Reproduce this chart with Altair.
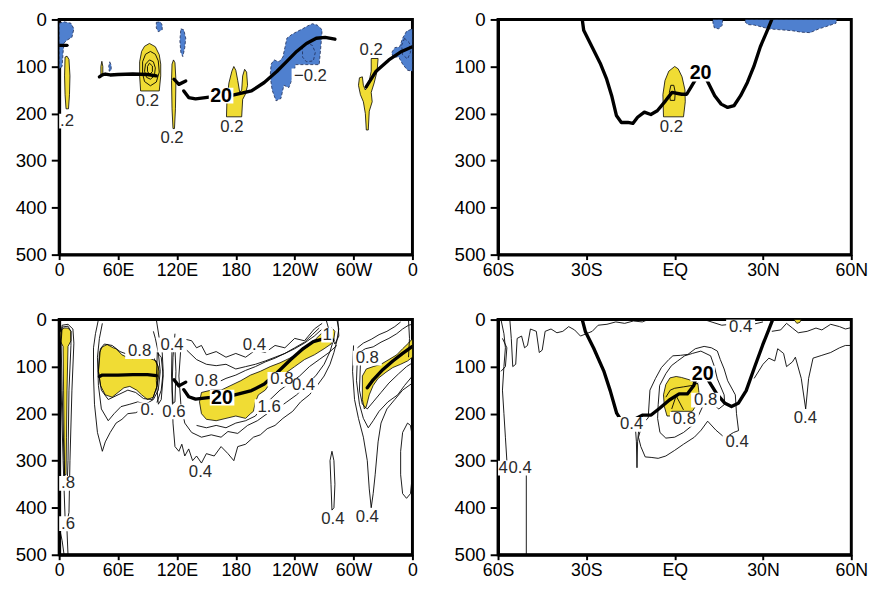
import altair as alt
import pandas as pd

YEL = "#f0dc34"
BLUE = "#4f80cf"

# ---------------- top-left (longitude section, contour 0.2) ----------------
TL_YELLOW = [
    [(6,80),(8,78),(10,85),(11,120),(10.5,160),(9.5,190),(7,190),(6,160),(5.5,120)],
    [(92,51),(87,57),(84,68),(82,90),(82,120),(83,152),(102,152),(103.5,120),(103.5,95),(102,75),(98,58)],
    [(116.5,86),(118,92),(119,130),(118.5,190),(117.5,232),(116,232),(115,190),(114.5,130),(115,95)],
    [(43.5,89),(44.5,100),(44.5,117),(42.5,117),(42.5,100)],
    [(170.5,207),(171,170),(173,135),(176,110),(178,100),(180,108),(182,130),(184,155),(186,150),(187,120),
     (189,106),(191,112),(192,140),(190,158),(187,170),(186,207)],
    [(306,124),(309,122),(310,140),(312,150),(315,140),(318,110),(318,83),(325,83),(324,110),(321,135),(318,155),
     (319,175),(316,195),(315,235),(313,235),(312,200),(310,175),(307,160),(305,140)],
]
TL_BLUE = [
    [(0,8),(5,5),(12,8),(15,20),(13,38),(8,44),(5,50),(4,70),(3,100),(0,105)],
    [(99,6),(103,5),(105,12),(105,22),(101,26),(99,18)],
    [(124,20),(127,22),(129,40),(128,60),(126,79),(124,70),(123,45)],
    [(51.5,90),(53,97),(53,108),(51,110),(50.5,100)],
    [(216,95),(219,86),(224,90),(228,80),(230,60),(232,40),(237,32),(243,25),(248,20),(253,14),(258,9),(263,12),
     (268,22),(267,50),(265,96),(241,96),(237,130),(234,145),(229,140),(226,168),(221,173),(217,150),(215,120)],
    [(339,70),(342,60),(347,58),(350,40),(354,25),(360,20),(360,110),(355,108),(350,95),(346,80),(340,80)],
]
TL_BLUE_RINGS = [
    [(252,50),(248,60),(248,80),(252,90),(259,88),(261,70),(258,55)],
    [(352,40),(349,55),(350,75),(355,84),(358,70),(357,50)],
]
TL_CLOSED = [
    [(93,68),(88,74),(85,90),(85,115),(87,132),(93,141),(99,133),(102,112),(101,88),(98,74)],
    [(92,86),(88,95),(87,110),(89,123),(93,127),(97,120),(98,103),(96,90)],
    [(92,93),(90,100),(90,110),(92,117),(95,111),(95,99)],
]
TL_OPEN = []
TL_THICK = [
    [(0,55),(8,55)],
    [(41,122),(44,118),(47,116),(52,118),(60,117),(75,116),(90,117),(99,120)],
    [(117,127),(122,138),(129,131)],
    [(127,152),(132,166),(139,169),(149,166),(160,163),(177,161),(196,152),(209,134),(222,110),(232,89),
     (242,68),(252,51),(262,40),(271,38),(281,42)],
    [(313,143),(323,110),(336,86),(349,68),(360,58)],
]
TL_LABELS = [(8,216,".2"),(90,173,"0.2"),(115,253,"0.2"),(176,228,"0.2"),(256,120,"\u22120.2"),(318,65,"0.2")]
TL_BOLD = [(165,162,"20")]

# ---------------- top-right (latitude section, contour 0.2) ----------------
TR_YELLOW = [
    [(0,100),(-2,110),(-3.3,130),(-4,160),(-3.8,207),(3,207),(3.6,175),(3.5,150),(2.5,122),(1.2,105)],
]
TR_BLUE = [
    [(13,0),(16.3,0),(16.2,12),(15,20),(13.5,18),(13,8)],
    [(24,0),(55,0),(54.8,8),(52,14),(49,20),(46,28),(43,27),(40,24),(36,22),(32,20),(29,15),(27,12),(25,11),(24,6)],
]
TR_BLUE_RINGS = []
TR_CLOSED = [
    [(-1.3,140),(-1.8,155),(-1.5,172),(0,172),(0.2,155),(-0.3,140)],
]
TR_OPEN = []
TR_THICK = [
    [(-31.4,0),(-30.9,23),(-28.1,58),(-25.3,93),(-23.1,127),(-21.4,162),(-19.8,204),(-18.1,219),(-15.9,219),
     (-14.2,221),(-12.6,208),(-10.3,197),(-8.1,202),(-5.9,194),(-3.1,173),(-0.9,155),(2.4,159),(4.1,159),
     (5.8,141),(7.4,124)],
    [(10.3,118),(10.8,127),(13.6,162),(15.8,180),(18,187),(20.2,183),(22.4,162),(24.7,134),(26.9,100),
     (29.1,58),(31.3,26),(33,0)],
]
TR_LABELS = [(-1.1,228,"0.2")]
TR_BOLD = [(8.8,115,"20")]

# ---------------- bottom-left (longitude section, contour 0.2 steps) ----------------
BL_YELLOW = [
    [(2,22),(5,18),(9,18),(12,25),(12,45),(9,57),(8,150),(7.5,250),(7,330),(5.5,330),(5,250),(4.5,150),(4,57),(1,45),(1,28)],
    [(41,70),(44,58),(49,53),(55,60),(58,62),(64,75),(69,80),(75,83),(79,80),(85,78),(92,82),(99,88),(102,110),
     (100,140),(96,165),(90,170),(84,160),(79,150),(72,142),(66,145),(60,155),(54,165),(47,160),(42,140),(40,110)],
    [(145,155),(155,150),(165,150),(175,140),(185,130),(195,118),(205,110),(215,100),(225,92),(235,82),(245,70),
     (255,55),(262,40),(267,30),(272,22),(278,18),(281,25),(280,40),(277,52),(270,62),(260,75),(250,85),(240,100),
     (232,112),(222,120),(215,135),(210,150),(203,160),(200,175),(198,195),(195,200),(190,210),(180,205),(170,210),
     (160,215),(150,212),(145,200),(143,175)],
    [(309,170),(309,120),(313,105),(320,100),(328,95),(336,85),(344,75),(350,62),(356,50),(359,43),(360,43),
     (360,80),(355,88),(348,95),(340,102),(333,112),(325,125),(320,140),(316,160),(313,185),(311,190)],
]
BL_BLUE = []
BL_BLUE_RINGS = []
BL_CLOSED = [
    [(3,12),(9,10),(14,20),(15,50),(13,150),(11,300),(10,410),(8,430),(6,420),(4,300),(2,150),(1,50)],
    [(3,16),(9,14),(12,25),(12,55),(10,150),(9,300),(8,360),(6,360),(5,300),(3,150),(2,50)],
    [(42,62),(46,52),(54,55),(62,68),(75,78),(86,75),(96,80),(101,100),(100,140),(95,170),(86,168),(78,155),
     (70,150),(60,160),(50,170),(43,150),(40,110)],
    [(100,70),(104,80),(106,120),(104,170),(101,180),(99,130)],
    [(115,60),(118,62),(119,110),(118,175),(116,178),(114.5,120)],
    [(278,280),(280,300),(281,350),(280,400),(278,405),(277,350),(276,300)],
    [(355,220),(350,240),(348,280),(348,330),(350,370),(354,380),(358,370),(360,330),(360,250),(358,225)],
]
BL_OPEN = [
    [(0,440),(3,470),(5,500)],
    [(8,450),(9,500)],
    [(40,0),(37,30),(35,60),(35,120),(36,180),(39,240),(44,280),(47,260),(52,240),(58,220),(64,212),(70,200),
     (78,198),(86,190),(92,188),(99,180),(104,150),(106,110),(105,70),(102,40),(99,0)],
    [(44,8),(41,40),(39,80),(40,140),(43,190),(50,215),(56,200),(63,185),(72,180),(80,175),(88,180),(96,170),
     (101,150),(103,110),(101,70),(98,40),(96,25)],
    [(118,30),(116,80),(115,150),(116,220),(118,270),(122,280),(125,265),(128,290),(132,275),(136,300),(140,290),
     (145,305),(150,285),(158,290),(165,270),(172,285),(178,300),(182,270),(190,265),(198,250),(205,245),(212,232),
     (220,225),(228,210),(238,195),(246,175),(255,160),(263,140),(270,120),(276,95),(280,70),(283,45),(285,20),(283,0)],
    [(124,60),(122,120),(124,180),(128,220),(135,240),(145,250),(155,245),(165,250),(172,238),(182,242),(192,225),
     (202,215),(212,200),(222,190),(232,175),(242,160),(252,140),(262,118),(270,95),(276,68),(280,40)],
    [(125,40),(135,45),(140,60),(145,55),(150,75),(160,68),(170,80),(180,72),(190,80),(200,65),(210,70),(220,55),
     (230,60),(240,40),(250,45),(260,20),(268,8)],
    [(130,65),(140,85),(150,95),(160,98),(170,95),(180,105),(190,100),(200,95),(210,88),(220,80),(230,72),
     (240,62),(250,50),(260,35),(268,20)],
    [(140,140),(150,132),(160,135),(170,125),(180,118),(190,108),(200,100),(210,90),(220,82),(230,72),(240,60),
     (250,48),(258,32),(265,18)],
    [(140,225),(150,230),(160,225),(170,230),(180,220),(190,215),(200,205),(205,190),(215,170),(225,150),(235,135),
     (245,120),(255,100),(265,85),(275,70),(283,55)],
    [(300,55),(299,110),(301,170),(305,210),(310,250),(314,300),(316,360),(318,400),(320,370),(322,330),(325,260),
     (328,220),(334,190),(342,170),(350,150),(360,135)],
    [(304,75),(303,130),(306,180),(310,210),(315,230),(320,215),(326,195),(335,175),(345,160),(352,140),(360,120)],
    [(307,95),(306,150),(309,180),(314,190),(320,175),(328,155),(336,135),(346,115),(354,100),(360,92)],
    [(306,70),(312,62),(320,58),(328,48),(336,40),(344,30),(350,20),(356,12),(360,10)],
    [(304,60),(310,50),(318,42),(326,32),(334,25),(342,15),(348,5)],
    [(272,0),(276,30),(281,52),(285,35),(284,0)],
    [(356,0),(357,40),(356,80)],
]
BL_THICK = [
    [(41,121),(44,118),(50,118),(60,118),(75,117),(90,117),(99,119)],
    [(117,128),(122,141),(129,133)],
    [(127,149),(132,164),(139,169),(152,166),(165,164),(177,161),(196,151),(209,137),(222,113),(236,85),
     (249,61),(259,47),(271,40),(279,44)],
    [(314,145),(320,128),(330,106),(340,88),(350,72),(360,57)],
]
BL_LABELS = [(82,68,"0.8"),(115,54,"0.4"),(199,54,"0.4"),(150,130,"0.8"),(117,196,"0.6"),(90,192,"0."),
             (144,324,"0.4"),(227,127,"0.8"),(249,140,"0.4"),(214,185,"1.6"),(273,33,"1"),(314,82,"0.8"),
             (279,424,"0.4"),(314,420,"0.4"),(9,348,".8"),(9,434,".6")]
BL_BOLD = [(166,166,"20")]

# ---------------- bottom-right (latitude section) ----------------
BR_YELLOW = [
    [(-3.8,160),(-3,138),(-1.6,124),(0.5,121),(2.3,123),(5,128),(7.9,137),(8.5,168),(7,185),(6,195),(-1,195),
     (-1,205),(-2.6,205),(-3.5,185)],
    [(40.5,0),(43,0),(42.5,6),(41.5,8)],
]
BR_BLUE = []
BR_BLUE_RINGS = []
BR_CLOSED = [
    [(-5.6,181),(-5.1,140),(-3,115),(-1.1,98),(1,88),(3.4,77),(6,72),(8.9,67),(12.2,77),(13.5,100),(14.5,126),
     (16.8,160),(17,180),(15,190),(13,180),(11,170),(9.5,185),(8,205),(6,225),(3,240),(0,250),(-3,252),(-5,240),
     (-5.8,210)],
    [(-11,222),(-9,209),(-8.4,150),(-6.5,125),(-4.5,102),(-2,85),(-0.6,77),(2,76),(4.5,74),(7,62),(10,57),
     (12.5,60),(14.5,67),(15.5,85),(16.8,105),(18,130),(20.6,160),(21,200),(21.7,236),(20,240),(18,248),(16.8,250),
     (14,235),(11.2,216),(9,235),(6.7,250),(3,265),(0,278),(-3,290),(-5.6,295),(-8,293),(-10,292),(-11.5,270),
     (-12.3,250)],
]
BR_OPEN = [
    [(-59,0),(-58,30),(-57.5,60),(-58,100),(-58.5,150),(-58,200),(-57.5,250),(-57,300)],
    [(-58.5,40),(-57,60),(-57.5,100),(-59,110)],
    [(-56,0),(-55.5,40),(-55,100),(-54,95),(-53.5,40),(-52,35),(-51,60),(-50,55),(-49,20),(-47,25),(-46,70),
     (-45,65),(-44,25),(-42,20),(-40,28),(-38,25),(-36,15),(-34,22),(-32,35),(-30,30),(-28,25),(-26,12),(-23,10),
     (-20,5),(-17,8),(-14,3),(-11,5),(-9,0)],
    [(-13.5,215),(-13,260),(-12.8,315),(-12.6,260),(-12,220)],
    [(-50.4,330),(-50.4,500)],
    [(10,0),(13,6),(16,12),(19,10),(22,14),(25,12),(28,8),(30,5)],
    [(33,25),(36,22),(38,8),(40,18),(42,28),(45,25),(48,18),(50,22),(53,10),(56,15),(58,20),(60,17)],
    [(27,125),(30,95),(32,82),(34,88),(35,62),(37,72),(38,100),(40,90),(41,80),(43,125),(44.5,190),(45.5,125),
     (47,82),(50,76),(53,70),(56,60),(58,55),(60,55)],
    [(-3,165),(-1.5,150),(0,146),(3,143),(6,140),(8,135)],
    [(-1,190),(0.5,162),(3,192)],
]
BR_THICK = [
    [(-31.4,0),(-30.3,26),(-27.5,61),(-24.1,109),(-21.9,151),(-19.7,199),(-18,216),(-15.2,220),(-13,210),
     (-10.8,203),(-8,203),(-5.2,189),(-1.8,171),(1.5,158),(4.3,158),(6.5,140),(7.2,125)],
    [(10.8,118),(11.5,130),(14.3,158),(17.1,178),(19.3,185),(21.6,178),(24.3,151),(27.1,102),(29.9,54),
     (32.1,19),(33.3,0)],
]
BR_LABELS = [(22.4,15,"0.4"),(44.4,209,"0.4"),(21.2,261,"0.4"),(-14.6,223,"0.4"),(3.3,212,"0.8"),
             (10.5,171,"0.8"),(-58.3,316,"4"),(-52.5,316,"0.4")]
BR_BOLD = [(9.5,115,"20")]

# ---------------- helpers ----------------
W, H = 359, 239
LON_TICKS = [0, 60, 120, 180, 240, 300, 360]
LAT_TICKS = [-60, -30, 0, 30, 60]
DEPTH_TICKS = [0, 100, 200, 300, 400, 500]
LABEL_FONT = "Liberation Sans"


def shapes_df(shapes, close):
    rows = []
    for pid, pts in enumerate(shapes):
        seq = list(pts) + ([pts[0]] if close else [])
        for k, (x, y) in enumerate(seq):
            rows.append({"x": x, "y": y, "pid": pid, "k": k})
    return pd.DataFrame(rows)


def label_df(labels, xspan, char_px, h_px):
    rows = []
    for (x, y, t) in labels:
        wpx = char_px * len(t) + 3
        dx = wpx * xspan / W / 2
        dy = h_px * 500 / H / 2
        rows.append({"x": x, "y": y, "t": t, "x1": x - dx, "x2": x + dx, "y1": y - dy, "y2": y + dy})
    return pd.DataFrame(rows)


def panel(geo, yellow, blue, rings, closed, opened, thick, labels, bold):
    if geo == "lon":
        dom, ticks = [0, 360], LON_TICKS
        expr = ("datum.value == 0 || datum.value == 360 ? '0' : datum.value < 180 ? datum.value + 'E' : "
                "datum.value == 180 ? '180' : (360 - datum.value) + 'W'")
    else:
        dom, ticks = [-60, 60], LAT_TICKS
        expr = "datum.value < 0 ? (-datum.value) + 'S' : datum.value == 0 ? 'EQ' : datum.value + 'N'"
    xspan = dom[1] - dom[0]
    xs = alt.Scale(domain=dom, nice=False, zero=False)
    ys = alt.Scale(domain=[0, 500], reverse=True, nice=False)
    xax = alt.Axis(values=ticks, labelExpr=expr, title=None, grid=False, labelFlush=False,
                   labelOverlap=False, labelFont=LABEL_FONT, labelFontSize=18, labelPadding=2,
                   tickSize=5)
    yax = alt.Axis(values=DEPTH_TICKS, title=None, grid=False, labelFlush=False, labelOverlap=False,
                   labelFont=LABEL_FONT, labelFontSize=19, labelPadding=5, tickSize=8)
    X = alt.X("x:Q", scale=xs, axis=xax)
    Y = alt.Y("y:Q", scale=ys, axis=yax)

    layers = []
    layers.append(alt.Chart(pd.DataFrame({"x": [dom[0]], "y": [0]})).mark_point(opacity=0).encode(x=X, y=Y))
    if yellow:
        layers.append(alt.Chart(shapes_df(yellow, True)).mark_line(
            fill=YEL, stroke="black", strokeWidth=0.8, clip=True).encode(
            x=X, y=Y, detail="pid:N", order="k:Q"))
    if blue:
        layers.append(alt.Chart(shapes_df(blue, True)).mark_line(
            fill=BLUE, stroke="#1d2b55", strokeWidth=0.8, strokeDash=[3, 2], clip=True).encode(
            x=X, y=Y, detail="pid:N", order="k:Q"))
    if rings:
        layers.append(alt.Chart(shapes_df(rings, True)).mark_line(
            stroke="#1d2b55", strokeWidth=0.8, strokeDash=[3, 2], clip=True).encode(
            x=X, y=Y, detail="pid:N", order="k:Q"))
    if closed:
        layers.append(alt.Chart(shapes_df(closed, True)).mark_line(
            stroke="black", strokeWidth=0.9, clip=True).encode(
            x=X, y=Y, detail="pid:N", order="k:Q"))
    if opened:
        layers.append(alt.Chart(shapes_df(opened, False)).mark_line(
            stroke="black", strokeWidth=0.9, clip=True).encode(
            x=X, y=Y, detail="pid:N", order="k:Q"))
    layers.append(alt.Chart(shapes_df(thick, False)).mark_line(
        stroke="black", strokeWidth=3.4, clip=True, strokeCap="round", strokeJoin="round").encode(
        x=X, y=Y, detail="pid:N", order="k:Q"))
    if labels:
        ld = label_df(labels, xspan, 8.8, 15)
        layers.append(alt.Chart(ld).mark_rect(color="white", clip=True).encode(
            x=alt.X("x1:Q", scale=xs, axis=xax), x2="x2:Q",
            y=alt.Y("y1:Q", scale=ys, axis=yax), y2="y2:Q"))
        layers.append(alt.Chart(ld).mark_text(
            font=LABEL_FONT, fontSize=17, color="#2a2a2a", clip=True).encode(x=X, y=Y, text="t:N"))
    if bold:
        bd = label_df(bold, xspan, 11, 16)
        layers.append(alt.Chart(bd).mark_rect(color="white", clip=True).encode(
            x=alt.X("x1:Q", scale=xs, axis=xax), x2="x2:Q",
            y=alt.Y("y1:Q", scale=ys, axis=yax), y2="y2:Q"))
        layers.append(alt.Chart(bd).mark_text(
            font=LABEL_FONT, fontSize=20, fontWeight="bold", color="black", clip=True).encode(
            x=X, y=Y, text="t:N"))
    return alt.layer(*layers).properties(width=W, height=H)


tl = panel("lon", TL_YELLOW, TL_BLUE, TL_BLUE_RINGS, TL_CLOSED, TL_OPEN, TL_THICK, TL_LABELS, TL_BOLD)
tr = panel("lat", TR_YELLOW, TR_BLUE, TR_BLUE_RINGS, TR_CLOSED, TR_OPEN, TR_THICK, TR_LABELS, TR_BOLD)
bl = panel("lon", BL_YELLOW, BL_BLUE, BL_BLUE_RINGS, BL_CLOSED, BL_OPEN, BL_THICK, BL_LABELS, BL_BOLD)
br = panel("lat", BR_YELLOW, BR_BLUE, BR_BLUE_RINGS, BR_CLOSED, BR_OPEN, BR_THICK, BR_LABELS, BR_BOLD)

chart = alt.vconcat(
    alt.hconcat(tl, tr, spacing=33),
    alt.hconcat(bl, br, spacing=33),
    spacing=28,
).properties(padding={"left": 5, "top": -4, "right": 0, "bottom": -6}).configure_view(
    stroke="black", strokeWidth=3
).configure_axis(
    domainColor="black", domainWidth=3, tickColor="black", tickWidth=2, labelColor="black"
)

chart.save("out.html", embed_options={"renderer": "svg", "actions": False})
